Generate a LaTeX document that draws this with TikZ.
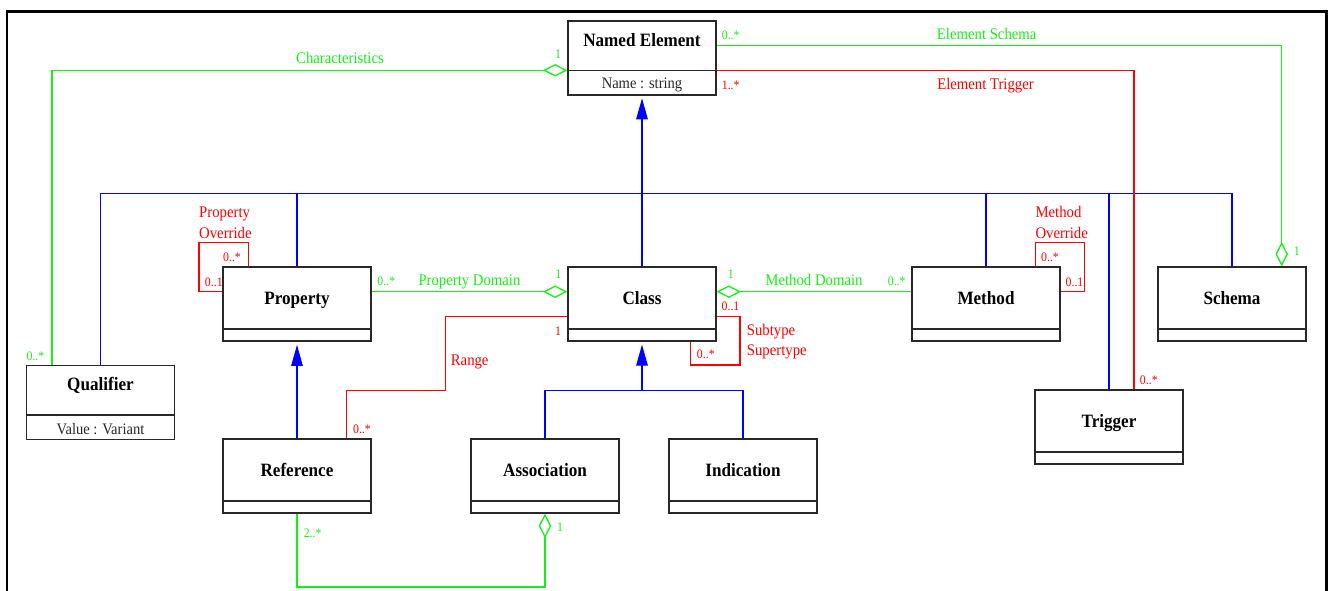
\documentclass[tikz,border=0pt]{standalone}
\usepackage{fontspec}
\setmainfont{Liberation Serif}[FakeStretch=0.91]
\usetikzlibrary{arrows.meta,calc}
\definecolor{ug}{RGB}{20,240,20}
\definecolor{ur}{RGB}{255,0,0}
\definecolor{ub}{RGB}{0,0,255}
\definecolor{ubox}{RGB}{40,40,40}
\begin{document}
\begin{tikzpicture}[x=1pt,y=-1pt,
  cls/.style={draw=ubox, line width=1.2pt, fill=white, inner sep=0pt, minimum width=148pt, minimum height=74pt},
  sep/.style={draw=ubox, line width=1.2pt},
  title/.style={anchor=base, inner sep=0pt, font=\fontsize{18.8}{22}\selectfont\bfseries, text=black},
  attr/.style={anchor=base, inner sep=0pt, font=\fontsize{16}{19}\selectfont, text=ubox},
  glbl/.style={anchor=base, inner sep=0pt, font=\fontsize{16.2}{19}\selectfont, text=ug},
  rlbl/.style={anchor=base, inner sep=0pt, font=\fontsize{16.2}{19}\selectfont, text=ur},
  gmul/.style={anchor=base, inner sep=0pt, font=\fontsize{13}{15}\selectfont, text=ug},
  rmul/.style={anchor=base, inner sep=0pt, font=\fontsize{13}{15}\selectfont, text=ur},
  bl/.style={draw=ub, line width=1.2pt},
  gl/.style={draw=ug, line width=1.3pt},
  rl/.style={draw=ur, line width=1.2pt},
  gen/.style={bl, -{Triangle[length=21pt,width=11.5pt]}},
  agg/.style={gl, -{Diamond[length=24.5pt,width=12.5pt,fill=white]}},
]
\useasboundingbox (0,0) rectangle (1328,591);
% frame
\draw[line width=2.5pt] (7,591) -- (7,11.5) -- (1326.5,11.5) -- (1326.5,591);

% classes
\node[cls] (ne) at (642,58) {};
\draw[sep] (ne.west |- 0,70.3) -- (ne.east |- 0,70.3);
\node[title] (net) at (642,46.7) {Named Element};
\node[attr] (nea) at (642,89) {Name : string};

\node[cls] (prop) at (297,304) {};
\draw[sep] (prop.west |- 0,329) -- (prop.east |- 0,329);
\node[title] (propt) at (297,304.3) {Property};

\node[cls] (cls) at (642,304) {};
\draw[sep] (cls.west |- 0,329) -- (cls.east |- 0,329);
\node[title] (clst) at (642,304.3) {Class};

\node[cls] (meth) at (986,304) {};
\draw[sep] (meth.west |- 0,329) -- (meth.east |- 0,329);
\node[title] (metht) at (986,304.3) {Method};

\node[cls] (schema) at (1232,304) {};
\draw[sep] (schema.west |- 0,329) -- (schema.east |- 0,329);
\node[title] (schemat) at (1232,304.3) {Schema};

\node[cls] (qual) at (100.5,402.5) {};
\draw[sep] (qual.west |- 0,415) -- (qual.east |- 0,415);
\node[title] (qualt) at (100.5,390) {Qualifier};
\node[attr] (quala) at (100.5,434) {Value : Variant};

\node[cls] (trig) at (1109,427) {};
\draw[sep] (trig.west |- 0,452) -- (trig.east |- 0,452);
\node[title] (trigt) at (1109,427.3) {Trigger};

\node[cls] (ref) at (297,476) {};
\draw[sep] (ref.west |- 0,501) -- (ref.east |- 0,501);
\node[title] (reft) at (297,476.7) {Reference};

\node[cls] (assoc) at (545,476) {};
\draw[sep] (assoc.west |- 0,501) -- (assoc.east |- 0,501);
\node[title] (assoct) at (545,476.7) {Association};

\node[cls] (ind) at (743,476) {};
\draw[sep] (ind.west |- 0,501) -- (ind.east |- 0,501);
\node[title] (indt) at (743,476.7) {Indication};

% generalizations
\coordinate (bus) at (642,193.3);
\coordinate (sub) at (642,390.3);
\draw[gen, shorten >=2.7pt] (cls.north) -- (ne.south);
\draw[bl] (qual.north) |- (schema.north |- bus) -- (schema.north);
\draw[bl] (prop.north) -- (prop.north |- bus);
\draw[bl] (meth.north) -- (meth.north |- bus);
\draw[bl] (trig.north) -- (trig.north |- bus);
\draw[gen, shorten >=3.3pt] (ref.north) -- (prop.south);
\draw[gen, shorten >=3pt] (cls.south |- sub) -- (cls.south);
\draw[bl] (assoc.north) |- (ind.north |- sub) -- (ind.north);

% associations
\draw[agg] (52,0 |- qual.north) |- (ne.west |- 0,70.3);
\draw[agg] (ne.east |- 0,45.7) -| (1281.7,0 |- schema.north);
\draw[rl] (ne.east |- 0,70.3) -| (1134,0 |- trig.north);
\draw[rl] (248.3,0 |- prop.north) |- (199,242.7) |- (prop.west |- 0,291.7);
\draw[rl] (1035.3,0 |- meth.north) |- (1084.3,242.7) |- (meth.east |- 0,291.7);
\draw[agg] (prop.east |- 0,291.7) -- (cls.west |- 0,291.7);
\draw[agg] (meth.west |- 0,291.7) -- (cls.east |- 0,291.7);
\draw[rl] (cls.east |- 0,316.7) -| (740,365) -| (690.7,0 |- cls.south);
\draw[rl] (cls.west |- 0,316.7) -| (445.3,390.3) -| (346.7,0 |- ref.north);
\draw[agg] (ref.south) |- (assoc.south |- 0,587) -- (assoc.south);

% labels
\node[glbl] (l1) at (340,64) {Characteristics};
\node[gmul] (m1) at (558,58.3) {1};
\node[gmul] (m2) at (35.5,360) {0..*};
\node[glbl] (l2) at (986.7,40) {Element Schema};
\node[gmul] (m3) at (730.7,39.3) {0..*};
\node[gmul] (m4) at (1296.7,255) {1};
\node[rlbl] (l3) at (985.5,89.3) {Element Trigger};
\node[rmul] (m5) at (730.7,89.3) {1..*};
\node[rmul] (m6) at (1148.8,384) {0..*};
\node[rlbl, anchor=base west] (l4) at (199,217.7) {Property};
\node[rlbl, anchor=base west] (l5) at (199,238.3) {Override};
\node[rmul] (m7) at (232,261) {0..*};
\node[rmul] (m8) at (213.8,286) {0..1};
\node[rlbl, anchor=base west] (l6) at (1035.3,217.7) {Method};
\node[rlbl, anchor=base west] (l7) at (1035.3,238.3) {Override};
\node[rmul] (m9) at (1050,261) {0..*};
\node[rmul] (m10) at (1074.5,286) {0..1};
\node[gmul] (m11) at (386.3,285) {0..*};
\node[glbl, anchor=base west] (l8) at (418.3,285) {Property Domain};
\node[gmul] (m12) at (558.3,278.3) {1};
\node[gmul] (m13) at (730.7,278.3) {1};
\node[glbl] (l9) at (814,285) {Method Domain};
\node[gmul] (m14) at (896.7,285) {0..*};
\node[rmul] (m15) at (730.5,310) {0..1};
\node[rlbl, anchor=base west] (l10) at (746.7,335) {Subtype};
\node[rlbl, anchor=base west] (l11) at (746.7,355) {Supertype};
\node[rmul] (m16) at (705.8,358.3) {0..*};
\node[rmul] (m17) at (558,335) {1};
\node[rlbl] (l12) at (469.7,365.7) {Range};
\node[rmul] (m18) at (362,433.3) {0..*};
\node[gmul] (m19) at (312.7,537.3) {2..*};
\node[gmul] (m20) at (560,531.7) {1};
\end{tikzpicture}
\end{document}
